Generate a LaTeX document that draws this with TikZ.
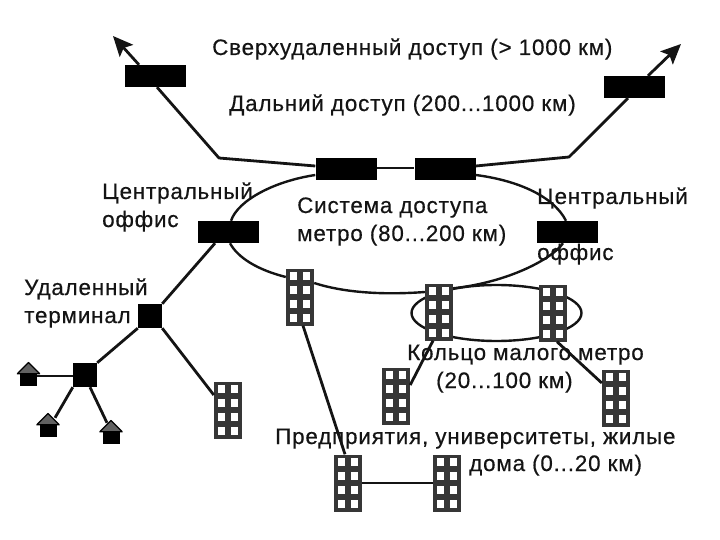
\documentclass[tikz,border=0pt]{standalone}
\usepackage{fontspec}
\setmainfont[LetterSpace=3.7,FakeBold=0.5]{Liberation Sans}
\usetikzlibrary{shapes.geometric,arrows.meta}
\definecolor{bldc}{HTML}{363636}
\tikzset{
 wire/.style={line width=2.8pt,color=black!92},
 ringline/.style={draw=black!92,line width=2.4pt},
 rackbox/.style={fill=black,draw=none,minimum width=61pt,minimum height=22pt,inner sep=0pt},
 termbox/.style={fill=black,draw=none,minimum size=24pt,inner sep=0pt},
 homebody/.style={fill=black,draw=none,minimum width=17pt,minimum height=12pt,inner sep=0pt},
 homeroof/.style={fill=black!62,draw=black,line width=1.2pt,line join=round},
 bldbox/.style={fill=bldc,draw=none,minimum width=28pt,minimum height=57pt,inner sep=0pt,
  path picture={
   \foreach \cx in {-6.4,6.4} \foreach \cy in {-21,-7,7,21}
    \fill[white] ([shift={(\cx pt-3.8pt,\cy pt-4.4pt)}]path picture bounding box.center) rectangle ++(7.6pt,8.8pt);
  }},
 lbl/.style={anchor=base west,inner sep=0pt,font=\fontsize{22.4}{24}\selectfont,text=black!92},
 bigtip/.style={-{Stealth[length=20pt,width=18pt,inset=4pt]}},
}
\begin{document}
\begin{tikzpicture}[x=1pt,y=-1pt]
\useasboundingbox (0,0) rectangle (720,540);
% small ring
\node[ellipse,ringline,minimum width=170pt,minimum height=56pt,inner sep=0pt] (small) at (496.5,313) {};
% nodes
\node[rackbox] (r1) at (155,76) {};
\node[rackbox] (r2) at (634,87) {};
\node[rackbox] (r3) at (346,169) {};
\node[rackbox] (r4) at (445,169) {};
\node[rackbox] (co1) at (228,232) {};
\node[rackbox] (co2) at (567,232) {};
\node[termbox] (t1) at (150,316) {};
\node[termbox] (t2) at (85,375) {};
\node[homebody] (h1) at (28.5,380) {};
\node[homebody] (h2) at (48,431) {};
\node[homebody] (h3) at (111,438) {};
\node[bldbox] (b0) at (228,410) {};
\node[bldbox] (b1) at (300,297) {};
\node[bldbox] (b2) at (439,312) {};
\node[bldbox] (b3) at (553,313) {};
\node[bldbox] (b4) at (396,396) {};
\node[bldbox] (b5) at (616,398) {};
\node[bldbox] (b6) at (348,483) {};
\node[bldbox] (b7) at (447,483) {};
% roofs
\draw[homeroof] (h1.north west)++(-2.5,0) -- (28.5,362.5) -- ([xshift=2.5pt]h1.north east) -- cycle;
\draw[homeroof] (h2.north west)++(-2.5,0) -- (48,413.5) -- ([xshift=2.5pt]h2.north east) -- cycle;
\draw[homeroof] (h3.north west)++(-2.5,0) -- (111,420.5) -- ([xshift=2.5pt]h3.north east) -- cycle;
% metro ring
\draw[ringline] ([xshift=3pt]co1.north) .. controls (238,200) and (275,181) .. ([yshift=-6pt]r3.west);
\draw[ringline] ([yshift=-6pt]r4.east) .. controls (515,180) and (553,195) .. ([xshift=-1pt]co2.north);
\draw[ringline] ([xshift=-4pt]co2.south) .. controls (553,258) and (510,282) .. ([yshift=-5pt]b2.north east);
\draw[ringline] ([yshift=20pt]b2.west) .. controls (385,295) and (345,293) .. ([yshift=14pt]b1.east);
\draw[ringline] ([yshift=20pt]b1.west) .. controls (258,270) and (238,258) .. ([xshift=2pt]co1.south);
% connectors
\coordinate (a1) at (113,36);
\coordinate (a2) at (681,44);
\coordinate (k1) at (219,158);
\coordinate (k2) at (569,157);
\draw[wire,bigtip] ([xshift=-16pt]r1.north) -- (a1);
\draw[wire,bigtip] ([xshift=14pt]r2.north) -- (a2);
\draw[wire,line join=round] ([xshift=2pt]r1.south) -- (k1) -- ([yshift=3pt]r3.west);
\draw[wire,line join=round] ([yshift=3pt]r4.east) -- (k2) -- ([xshift=-6pt]r2.south);
\draw[ringline] ([yshift=1pt]r3.east) -- ([yshift=1pt]r4.west);
\draw[wire] ([xshift=-13pt]co1.south) -- (t1.north east);
\draw[wire] (t1.south west) -- (t2.north east);
\draw[wire] (t1.south east) -- ([yshift=15pt]b0.west);
\draw[wire] ([yshift=-1pt]t2.west) -- ([yshift=4pt]h1.east);
\draw[wire] (t2.south west) -- ([xshift=7pt,yshift=7pt]h2.north);
\draw[wire] ([xshift=5pt]t2.south) -- ([xshift=-4pt,yshift=9pt]h3.north);
\draw[wire] ([xshift=3pt]b1.south) -- ([xshift=-3pt]b6.north);
\draw[wire] ([xshift=-6pt]b2.south) -- ([yshift=11pt]b4.east);
\draw[wire] ([xshift=4pt]b3.south) -- ([yshift=15pt]b5.west);
\draw[wire] (b6) -- (b7);
% labels
\node[lbl] (l1) at (212,55) {Сверхудаленный доступ (> 1000 км)};
\node[lbl] (l2) at (229,111) {Дальний доступ (200...1000 км)};
\node[lbl] (l3) at (102,199) {Центральный};
\node[lbl] (l4) at (102,227) {оффис};
\node[lbl] (l5) at (297,213) {Система доступа};
\node[lbl] (l6) at (297,241) {метро (80...200 км)};
\node[lbl] (l7) at (537,204) {Центральный};
\node[lbl] (l8) at (537,260) {оффис};
\node[lbl] (l9) at (24,295) {Удаленный};
\node[lbl] (l10) at (24,323) {терминал};
\node[lbl] (l11) at (407,360) {Кольцо малого метро};
\node[lbl] (l12) at (436,388) {(20...100 км)};
\node[lbl] (l13) at (275,444) {Предприятия, университеты, жилые};
\node[lbl] (l14) at (469,471) {дома (0...20 км)};
\end{tikzpicture}
\end{document}
